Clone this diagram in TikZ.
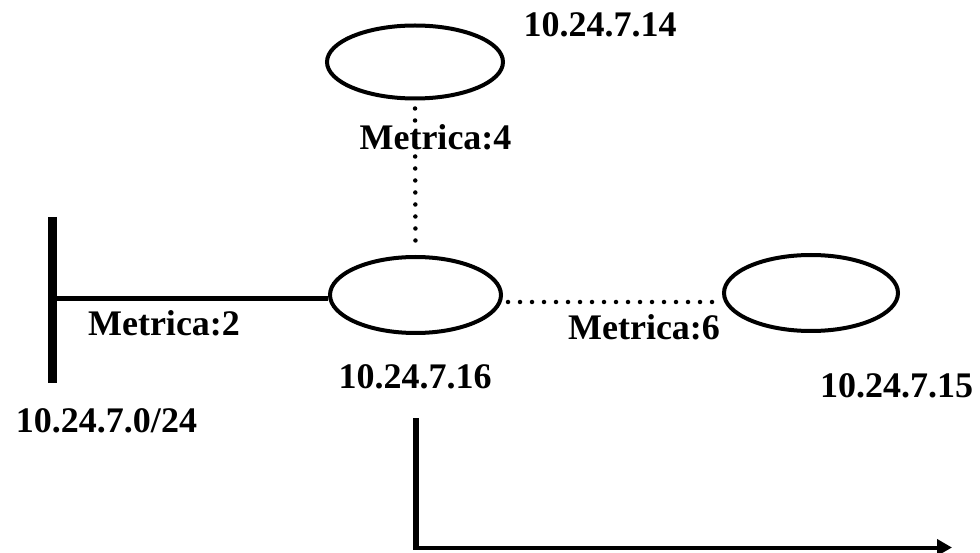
\documentclass[tikz,border=0pt]{standalone}
\usepackage{fontspec}
\setmainfont{Liberation Serif}
\usetikzlibrary{shapes.geometric,arrows.meta}
\begin{document}
\begin{tikzpicture}[x=1pt,y=-1pt,
  router/.style={draw,ellipse,line width=4pt,inner sep=0pt},
  lbl/.style={font=\fontsize{36}{40}\selectfont\bfseries,anchor=base,inner sep=0pt},
  dotline/.style={line width=4.5pt,line cap=round,dash pattern=on 0pt off 12pt},
  solidline/.style={line width=5pt},
  busbar/.style={line width=9pt},
]
\useasboundingbox (0,0) rectangle (980,553);
% routers
\node[router,minimum width=176pt,minimum height=73pt] (top) at (415,62) {};
\node[router,minimum width=171pt,minimum height=76pt] (mid) at (415.5,295) {};
\node[router,minimum width=174pt,minimum height=76pt] (rgt) at (811,293) {};
% network bar
\coordinate (bartop) at (52,217);
\coordinate (barbot) at (52,383);
\coordinate (barpt) at (52,299);
\draw[busbar] (bartop) -- (barbot);
% links
\draw[solidline] (barpt) -- (barpt -| mid.west);
\draw[dotline,shorten <=8pt,shorten >=9pt] (top.south) -- (mid.north);
\draw[dotline,shorten <=5pt,shorten >=5pt] ([yshift=-7pt]mid.east) -- ([yshift=-9pt]rgt.west);
% arrow
\coordinate (astart) at (416,418);
\coordinate (acorner) at (416,549.5);
\coordinate (hstart) at (413,547.5);
\coordinate (aend) at (952,547.5);
\draw[line width=6pt] (astart) -- (acorner);
\draw[line width=4pt,-{Triangle[length=15pt,width=16pt]}] (hstart) -- (aend);
% labels
\node[lbl] (l14) at (600,37) {10.24.7.14};
\node[lbl] (m4) at (435.5,150) {Metrica:4};
\node[lbl] (m2) at (164,335) {Metrica:2};
\node[lbl] (l16) at (415,388) {10.24.7.16};
\node[lbl] (l0) at (106.5,432) {10.24.7.0/24};
\node[lbl] (m6) at (644,340) {Metrica:6};
\node[lbl] (l15) at (896.5,397) {10.24.7.15};
\end{tikzpicture}
\end{document}
